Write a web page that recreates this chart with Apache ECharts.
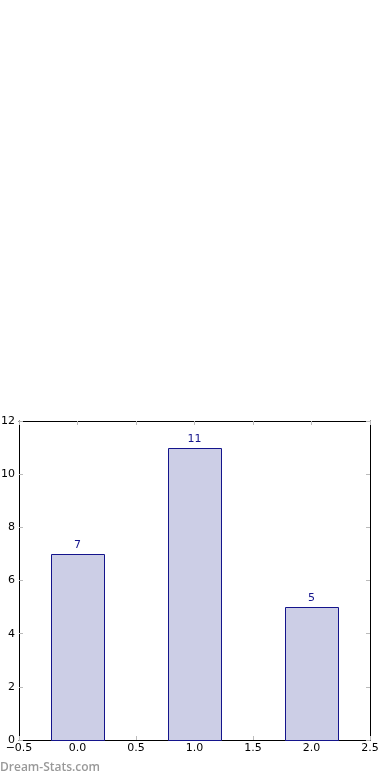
<!DOCTYPE html>
<html><head><meta charset="utf-8">
<script src="https://cdn.jsdelivr.net/npm/echarts@6/dist/echarts.min.js"></script>
<style>html,body{margin:0;padding:0;background:#fff}#c{width:390px;height:780px}</style>
</head><body><div id="c"></div>
<script>
var positions = [0, 1, 2];
var counts = [7, 11, 5];
var xTicks = [-0.5, 0.0, 0.5, 1.0, 1.5, 2.0, 2.5];
var yTicks = [0, 2, 4, 6, 8, 10, 12];
var barHalf = 0.225;

var chart = echarts.init(document.getElementById('c'));
var font = 'DejaVu Sans';
var data = positions.map(function (p, i) { return [p, counts[i]]; });
function axisCommon() {
  return {
    axisLine: { show: true, onZero: false, lineStyle: { color: '#000', width: 1 } },
    axisTick: { show: true, inside: true, length: 4, lineStyle: { color: '#bbb', width: 1 } },
    splitLine: { show: false }
  };
}
chart.setOption({
  animation: false,
  grid: { left: 19, right: 20, top: 421, bottom: 40, show: false, containLabel: false, outerBoundsMode: 'none' },
  xAxis: [
    Object.assign({ type: 'value', min: xTicks[0], max: xTicks[xTicks.length - 1], interval: 0.5, position: 'bottom',
      axisLabel: { color: '#000', fontFamily: font, fontSize: 11, margin: 3, formatter: function (v) { return v.toFixed(1).replace('-', '\u2212'); } } }, axisCommon()),
    Object.assign({ type: 'value', min: xTicks[0], max: xTicks[xTicks.length - 1], interval: 0.5, position: 'top',
      axisLabel: { show: false } }, axisCommon())
  ],
  yAxis: [
    Object.assign({ type: 'value', min: yTicks[0], max: yTicks[yTicks.length - 1], interval: 2, position: 'left',
      axisLabel: { color: '#000', fontFamily: font, fontSize: 11, margin: 4 } }, axisCommon()),
    Object.assign({ type: 'value', min: yTicks[0], max: yTicks[yTicks.length - 1], interval: 2, position: 'right',
      axisLabel: { show: false } }, axisCommon())
  ],
  series: [{
    type: 'custom',
    xAxisIndex: 0, yAxisIndex: 0,
    data: data,
    renderItem: function (params, api) {
      var x = api.value(0), v = api.value(1);
      var tl = api.coord([x - barHalf, v]);
      var br = api.coord([x + barHalf, 0]);
      var top = api.coord([x, v]);
      return {
        type: 'group',
        children: [{
          type: 'rect',
          shape: { x: Math.round(tl[0]) + 0.5, y: Math.round(tl[1]) + 0.5, width: Math.round(br[0] - tl[0]), height: Math.round(br[1] - tl[1]) },
          style: { fill: '#ccceE6', stroke: '#14148c', lineWidth: 1 }
        }, {
          type: 'text',
          style: { text: String(v), x: top[0], y: top[1] - 3, align: 'center', verticalAlign: 'bottom',
            fill: '#14148c', font: '11px "DejaVu Sans"' }
        }]
      };
    }
  }],
  graphic: [{
    type: 'text', left: 0, top: 762,
    style: { text: 'Dream-Stats.com', fill: '#999', font: '600 12px "Open Sans"' }
  }]
});
</script></body></html>
